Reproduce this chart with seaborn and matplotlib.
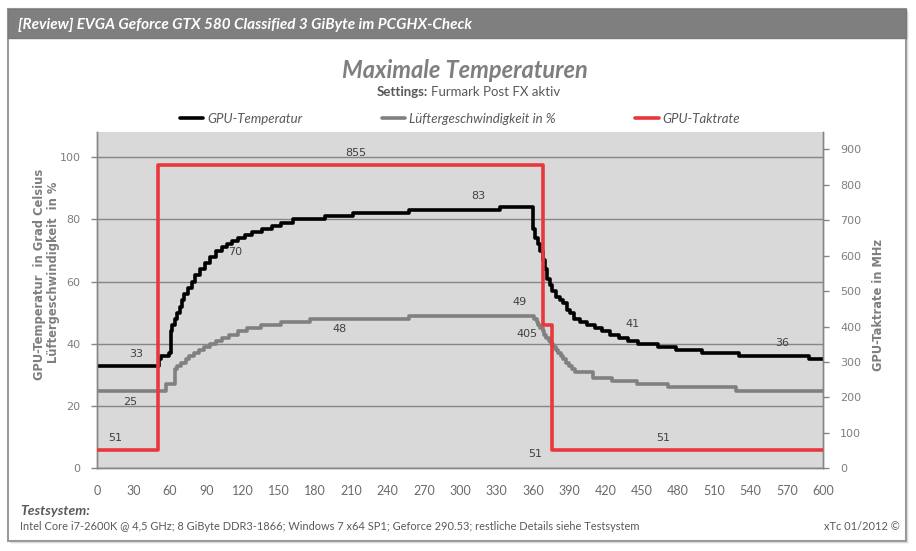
import matplotlib
matplotlib.use('Agg')
import matplotlib.pyplot as plt
from matplotlib.patches import Rectangle
from matplotlib.lines import Line2D
import seaborn as sns
import pandas as pd

sns.set_style('white')
plt.rcParams['font.family'] = ['DejaVu Sans']

# GPU temperature in degrees C (stepwise readings, time in s)
temp_time = [0, 50, 51, 53, 59, 61, 62, 64, 66, 68, 70, 72, 75, 78, 81, 85, 89, 93, 98,
             103, 107, 111, 116, 122, 128, 136, 144, 152, 162, 188, 211, 258, 333,
             360, 362, 364, 366, 368, 370, 372, 374, 376, 379, 382, 385, 388, 391, 394,
             399, 405, 411, 417, 424, 431, 439, 447, 463, 478, 500, 530, 588, 600]
temp_val = [33, 33, 35, 36, 37, 44, 46, 48, 50, 52, 54, 56, 58, 60, 62, 64, 66, 68, 70,
            71, 72, 73, 74, 75, 76, 77, 78, 79, 80, 81, 82, 83, 84,
            77, 74, 72, 70, 67, 64, 61, 59, 57, 55, 54, 53, 51, 50, 48,
            47, 46, 45, 44, 43, 42, 41, 40, 39, 38, 37, 36, 35, 35]

# fan speed in %
fan_time = [0, 57, 64, 66, 69, 73, 76, 80, 84, 88, 93, 98, 103, 109, 116, 124, 135, 152,
            176, 258, 361, 363, 364, 366, 368, 369, 371, 373, 375, 377, 379, 381, 383,
            385, 387, 390, 392, 395, 410, 425, 446, 472, 528, 600]
fan_val = [25, 27, 32, 33, 34, 35, 36, 37, 38, 39, 40, 41, 42, 43, 44, 45, 46, 47,
           48, 49, 48, 47, 46, 45, 44, 43, 42, 41, 40, 39, 38, 37, 36,
           35, 34, 33, 32, 31, 29, 28, 27, 26, 25, 25]

# GPU clock in MHz
clock_time = [0, 50, 368, 376, 600]
clock_val = [51, 855, 405, 51, 51]

x_ticks = list(range(0, 601, 30))
left_ticks = list(range(0, 101, 20))
right_ticks = list(range(0, 901, 100))

# data labels: (time, value on left axis scale, text)
point_labels = [(32, 36.7, '33'), (27, 21.3, '25'), (14.6, 9.8, '51'),
                (214, 101.2, '855'), (113.8, 69.6, '70'), (200, 44.8, '48'),
                (315, 87.6, '83'), (349, 53.5, '49'), (355, 43.2, '405'),
                (362, 4.5, '51'), (442.5, 46.4, '41'), (566, 40.2, '36'),
                (468, 9.7, '51')]

legend_names = ['GPU-Temperatur', 'Lüftergeschwindigkeit in %', 'GPU-Taktrate']

df_temp = pd.DataFrame({'Zeit': temp_time, 'Wert': temp_val})
df_fan = pd.DataFrame({'Zeit': fan_time, 'Wert': fan_val})
df_clock = pd.DataFrame({'Zeit': clock_time, 'MHz': clock_val})

W, H = 916, 551
fig = plt.figure(figsize=(W / 100, H / 100), dpi=100)
fig.patch.set_facecolor('white')

def fx(px):
    return px / W

def fy(py):
    return 1 - py / H

# card frame + shadow + header bar (behind the axes)
for i, a in enumerate([0.10, 0.16, 0.25]):
    off = 3 - i
    fig.patches.append(Rectangle((fx(8 + off), fy(541 + off)), fx(898), 532 / H,
                                 transform=fig.transFigure, facecolor='#808080',
                                 edgecolor='none', alpha=a, zorder=-10))
fig.patches.append(Rectangle((fx(8), fy(541)), fx(898), 532 / H, transform=fig.transFigure,
                             facecolor='white', edgecolor='#9a9a9a', lw=1.5, zorder=-5))
fig.patches.append(Rectangle((fx(8), fy(38)), fx(898), 29 / H, transform=fig.transFigure,
                             facecolor='#7f7f7f', edgecolor='#7a7a7a', lw=1, zorder=-4))
fig.text(fx(18), fy(25), '[Review] EVGA Geforce GTX 580 Classified 3 GiByte im PCGHX-Check',
         color='white', fontsize=11, fontweight='bold', fontstyle='italic',
         family='Lato', va='center', ha='left')

# titles
fig.text(fx(465), fy(70), 'Maximale Temperaturen', color='#7f7f7f', fontsize=17,
         fontweight='bold', fontstyle='italic', family='Lato', ha='center', va='center')
fig.text(fx(428), fy(92), 'Settings:', color='#595959', fontsize=9.5, fontweight='bold',
         family='Lato', ha='right', va='center')
fig.text(fx(431), fy(92), 'Furmark Post FX aktiv', color='#595959', fontsize=9.5,
         family='Lato', ha='left', va='center')

ax = fig.add_axes([fx(97.3), fy(468.4), fx(823.3 - 97.3), (468.4 - 132.3) / H])
ax2 = ax.twinx()

sns.lineplot(data=df_temp, x='Zeit', y='Wert', ax=ax, color='black', lw=2.6,
             drawstyle='steps-post', zorder=3)
sns.lineplot(data=df_fan, x='Zeit', y='Wert', ax=ax, color='#808080', lw=2.6,
             drawstyle='steps-post', zorder=2)
sns.lineplot(data=df_clock, x='Zeit', y='MHz', ax=ax2, color='#e8383d', lw=2.6,
             drawstyle='steps-post', zorder=3)

ax.set_facecolor('#d9d9d9')
ax.set_xlim(0, 600)
ax.set_ylim(0, 108)
ax2.set_ylim(0, 948)
ax.set_xticks(x_ticks)
ax.set_yticks(left_ticks)
ax2.set_yticks(right_ticks)
ax.set_xlabel('')
ax.set_ylabel('')
ax2.set_ylabel('')
ax.grid(axis='y', color='#868686', lw=1)
ax.grid(axis='x', visible=False)
ax2.grid(False)

for a in (ax, ax2):
    for side in ('left', 'right', 'bottom'):
        a.spines[side].set_color('#868686')
        a.spines[side].set_linewidth(1)
    a.spines['top'].set_visible(False)

ax.tick_params(axis='y', length=4, width=1, color='#868686', labelcolor='#7f7f7f',
               labelsize=8, pad=8, left=True)
ax2.tick_params(axis='y', length=4, width=1, color='#868686', labelcolor='#7f7f7f',
                labelsize=8, pad=8, right=True)
ax.tick_params(axis='x', length=0, labelcolor='#6a6a6a', labelsize=9, pad=12)
for lab in ax.get_xticklabels():
    lab.set_family('Lato')

for t, v, s in point_labels:
    ax.text(t, v, s, color='#404040', fontsize=8, ha='center', va='center', zorder=5)

# axis titles
fig.text(fx(40), fy(274), 'GPU-Temperatur  in Grad Celsius', rotation=90, color='#7f7f7f',
         fontsize=8.3, fontweight='bold', ha='center', va='center')
fig.text(fx(54), fy(272), 'Lüftergeschwindigkeit  in %', rotation=90, color='#7f7f7f',
         fontsize=8.3, fontweight='bold', ha='center', va='center')
fig.text(fx(878), fy(305), 'GPU-Taktrate in MHz', rotation=90, color='#7f7f7f',
         fontsize=8.3, fontweight='bold', ha='center', va='center')

# legend
handles = [Line2D([], [], color='black', lw=2.6),
           Line2D([], [], color='#808080', lw=2.6),
           Line2D([], [], color='#e8383d', lw=2.6)]
leg = fig.legend(handles, legend_names, loc='center', bbox_to_anchor=(fx(460), fy(119)),
                 ncol=3, frameon=False, handlelength=1.8, handletextpad=0.3,
                 columnspacing=6.0, prop={'family': 'Lato', 'style': 'italic', 'size': 9.5})
for txt in leg.get_texts():
    txt.set_color('#595959')

# footer
fig.text(fx(20), fy(511), 'Testsystem:', color='#595959', fontsize=10, fontweight='bold',
         fontstyle='italic', family='Lato', ha='left', va='center')
fig.text(fx(20), fy(527), 'Intel Core i7-2600K @ 4,5 GHz; 8 GiByte DDR3-1866; Windows 7 x64 SP1; '
         'Geforce 290.53; restliche Details siehe Testsystem', color='#595959', fontsize=7.9,
         family='Lato', ha='left', va='center')
fig.text(fx(900), fy(527), 'xTc 01/2012 ©', color='#595959', fontsize=7.9, family='Lato',
         ha='right', va='center')

fig.savefig('out.png', dpi=100)
